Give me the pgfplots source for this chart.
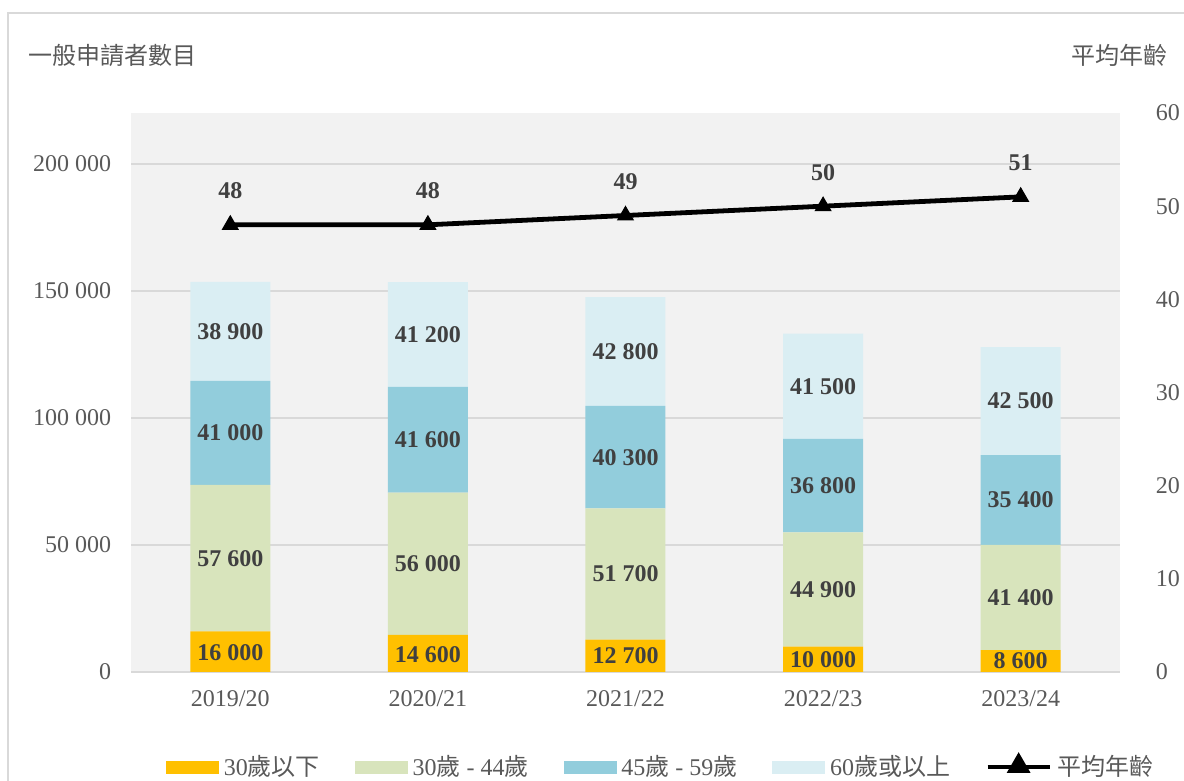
\documentclass[border=0pt]{standalone}
\usepackage{pgfplots}
\pgfplotsset{compat=1.18}
\usepackage{fontspec}
\setmainfont{Liberation Serif}
\newfontfamily\cjk{Noto Sans CJK TC}
\definecolor{cA}{HTML}{FFC000}
\definecolor{cB}{HTML}{D8E4BC}
\definecolor{cC}{HTML}{92CDDC}
\definecolor{cD}{HTML}{DAEEF3}
\definecolor{txt}{HTML}{595959}
\definecolor{lab}{HTML}{404040}
\definecolor{gridc}{HTML}{D9D9D9}
\definecolor{bgc}{HTML}{F2F2F2}
\begin{document}
\begin{tikzpicture}
\useasboundingbox (0,0) rectangle (592pt,390.5pt);
\clip (0,0) rectangle (592pt,390.5pt);
\draw[gridc, line width=1pt] (4pt,-20pt) rectangle (620pt,384pt);
\node[anchor=west, text=txt, font=\cjk\fontsize{12}{14}\selectfont, inner sep=0pt] at (14pt,363pt) {一般申請者數目};
\node[anchor=east, text=txt, font=\cjk\fontsize{12}{14}\selectfont, inner sep=0pt] at (584pt,363pt) {平均年齡};
\pgfplotsset{base/.style={
  at={(65.75pt,54.5pt)}, anchor=south west, width=494pt, height=279.5pt, scale only axis,
  xmin=-0.5, xmax=4.5,
  tick label style={font=\fontsize{12}{14}\selectfont, text=txt},
  /pgf/number format/.cd, 1000 sep={\ }, fixed, precision=0, assume math mode=true,
}}
% bars
\begin{axis}[base, ymin=0, ymax=220000, ybar stacked, bar width=40pt,
  axis background/.style={fill=bgc},
  axis line style={draw=none}, ymajorgrids, grid style={gridc, line width=0.75pt},
  ytick={0,50000,100000,150000,200000}, scaled y ticks=false,
  xtick={0,1,2,3,4}, xticklabels={2019/20,2020/21,2021/22,2022/23,2023/24},
  major tick length=0pt,
  yticklabel style={inner sep=0pt, xshift=-10pt},
  xticklabel style={inner sep=0pt, yshift=-9pt}]
\addplot[fill=cA, draw=none] coordinates {(0,16000) (1,14600) (2,12700) (3,10000) (4,8600)};
\addplot[fill=cB, draw=none] coordinates {(0,57600) (1,56000) (2,51700) (3,44900) (4,41400)};
\addplot[fill=cC, draw=none] coordinates {(0,41000) (1,41600) (2,40300) (3,36800) (4,35400)};
\addplot[fill=cD, draw=none] coordinates {(0,38900) (1,41200) (2,42800) (3,41500) (4,42500)};
\draw[gridc, line width=1.2pt] (axis cs:-0.5,0) -- (axis cs:4.5,0);
\end{axis}
% segment labels
\begin{axis}[base, ymin=0, ymax=220000, hide axis,
  nodes near coords, point meta=explicit,
  every node near coord/.style={anchor=center, font=\bfseries\fontsize{12}{14}\selectfont, text=lab, inner sep=0pt}]
\addplot[draw=none, mark=none] coordinates {(0,7500)[16000] (1,7000)[14600] (2,6350)[12700] (3,5000)[10000] (4,4300)[8600]};
\addplot[draw=none, mark=none] coordinates {(0,44800)[57600] (1,42600)[56000] (2,38550)[51700] (3,32450)[44900] (4,29300)[41400]};
\addplot[draw=none, mark=none] coordinates {(0,94100)[41000] (1,91400)[41600] (2,84550)[40300] (3,73300)[36800] (4,67700)[35400]};
\addplot[draw=none, mark=none] coordinates {(0,134050)[38900] (1,132800)[41200] (2,126100)[42800] (3,112450)[41500] (4,106650)[42500]};
\end{axis}
% line
\begin{axis}[base, ymin=0, ymax=60, axis y line*=right, axis x line=none,
  axis line style={draw=none}, ytick={0,10,...,60}, major tick length=0pt,
  yticklabel style={inner sep=0pt, anchor=west, xshift=18pt},
  legend columns=5,
  legend style={at={(0.537,-0.170)}, anchor=center, draw=none, fill=none,
    font=\fontsize{12}{14}\selectfont, text=txt, inner sep=0pt,
    nodes={inner ysep=1.5pt, inner xsep=2.5pt},
    /tikz/every even column/.append style={column sep=15pt}},
  nodes near coords, 
  every node near coord/.style={anchor=center, yshift=17pt, font=\bfseries\fontsize{12}{14}\selectfont, text=lab, inner sep=0pt}]
\addlegendimage{legend image code/.code={\fill[cA] (0pt,-3pt) rectangle (26pt,3pt);}}
\addlegendimage{legend image code/.code={\fill[cB] (0pt,-3pt) rectangle (26pt,3pt);}}
\addlegendimage{legend image code/.code={\fill[cC] (0pt,-3pt) rectangle (26pt,3pt);}}
\addlegendimage{legend image code/.code={\fill[cD] (0pt,-3pt) rectangle (26pt,3pt);}}
\addplot[black, line width=2.4pt, mark=triangle*, mark size=4.5pt, mark options={line width=0.5pt},
  legend image code/.code={\draw[black, line width=2.4pt] (0pt,0pt) -- (31pt,0pt); \fill[black] (15.5pt,0.5pt) +(90:4.5pt) -- +(210:4.5pt) -- +(330:4.5pt) -- cycle;}]
  coordinates {(0,48) (1,48) (2,49) (3,50) (4,51)};
\legend{30{\cjk 歲以下}, 30{\cjk 歲} - 44{\cjk 歲}, 45{\cjk 歲} - 59{\cjk 歲}, 60{\cjk 歲或以上}, {\cjk 平均年齡}}
\end{axis}
\end{tikzpicture}
\end{document}
